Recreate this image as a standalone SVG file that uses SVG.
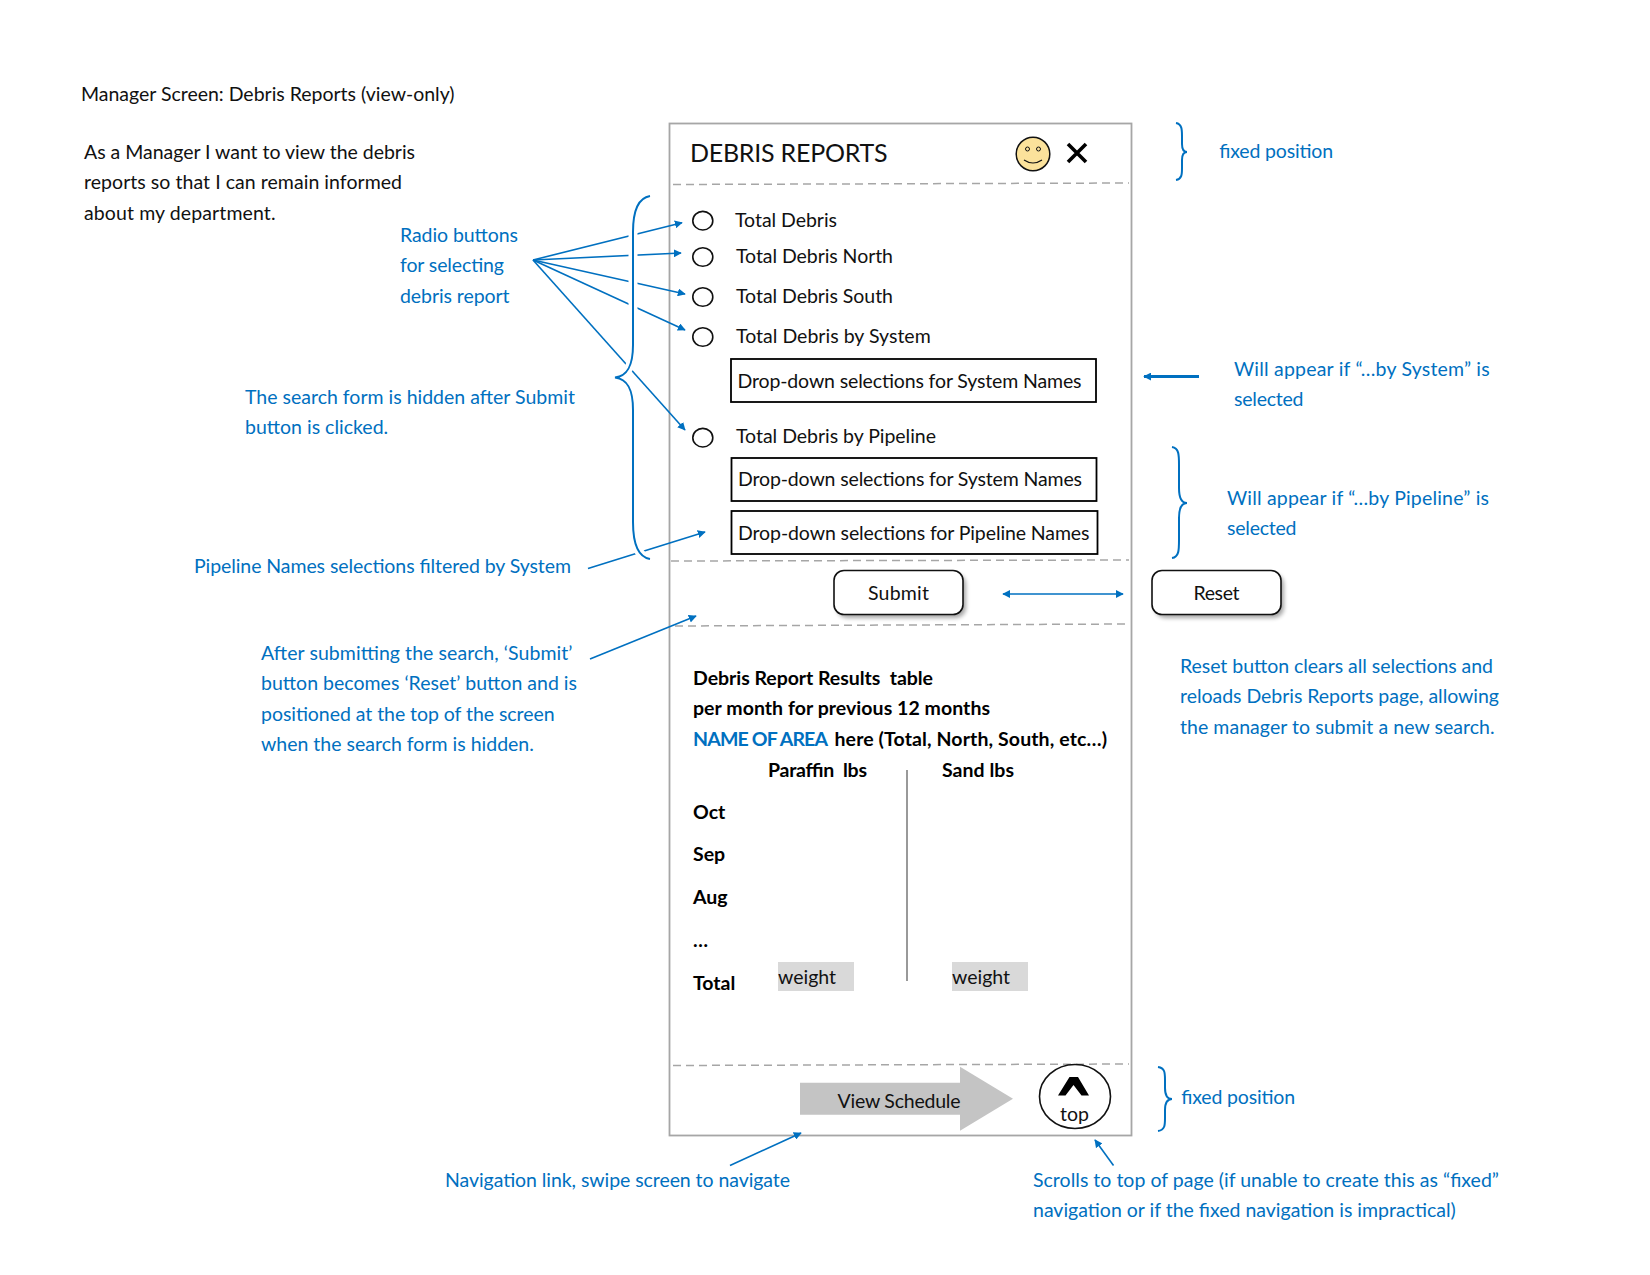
<svg xmlns="http://www.w3.org/2000/svg" width="1650" height="1275" viewBox="0 0 1650 1275">
<style>
text{font-family:"Lato","Liberation Sans",sans-serif;font-size:19.5px;fill:#111;white-space:pre}
.b{fill:#0070c0}
.h{font-weight:700;fill:#000}
.bb{font-weight:700;fill:#0070c0}
.dash{stroke:#a6a6a6;stroke-width:1.5;stroke-dasharray:8 5;fill:none}
.ln{stroke:#0070c0;stroke-width:1.6;fill:none}
.brace{stroke:#0070c0;stroke-width:2;fill:none}
.halo{stroke:#fff;stroke-width:9;fill:none}
.radio{fill:#fff;stroke:#111;stroke-width:1.6}
.box{fill:#fff;stroke:#000;stroke-width:1.8}
.btn{fill:#fff;stroke:#111;stroke-width:1.6}
.sh{fill:#000;opacity:.35;filter:url(#blur)}
</style>
<defs>
<marker id="a" viewBox="0 0 10 10" refX="9" refY="5" markerWidth="8" markerHeight="8" orient="auto-start-reverse" markerUnits="userSpaceOnUse"><path d="M0 0L10 5L0 10Z" fill="#0070c0"/></marker>
<filter id="blur" x="-10%" y="-20%" width="120%" height="140%"><feGaussianBlur stdDeviation="2"/></filter>
</defs>
<rect width="1650" height="1275" fill="#fff"/>
<g id="intro">
<text x="81" y="101" textLength="373.500">Manager Screen: Debris Reports (view-only)</text>
<text x="84" y="159" textLength="331">As a Manager I want to view the debris</text>
<text x="84" y="189" textLength="318">reports so that I can remain informed</text>
<text x="84" y="220" textLength="191.500">about my department.</text>
</g>
<g id="screen">
<rect x="669.500" y="123.500" width="462" height="1012" fill="#fff" stroke="#a6a6a6" stroke-width="1.800"/>
<path class="dash" d="M673 184.500L1129 183M671 561L1129 560M675 626L1129 624M673 1065.500L1129 1064"/>
</g>
<g id="header">
<text x="690" y="162" style="font-size:25px" textLength="197.500">DEBRIS REPORTS</text>
<circle cx="1033" cy="154" r="16.800" fill="#fbe29b" stroke="#111" stroke-width="1.500"/>
<circle cx="1027.500" cy="149" r="2" fill="none" stroke="#111" stroke-width="1"/>
<circle cx="1038.500" cy="149" r="2" fill="none" stroke="#111" stroke-width="1"/>
<path d="M1024 160Q1033 166 1042 160" fill="none" stroke="#111" stroke-width="1.200"/>
<path d="M1068 144L1086 162M1086 144L1068 162" stroke="#000" stroke-width="3.600" fill="none"/>
</g>
<g id="radio-total"><ellipse class="radio" cx="702.800" cy="220.700" rx="10" ry="9.300"/><text x="735" y="227" textLength="102">Total Debris</text></g>
<g id="radio-north"><ellipse class="radio" cx="702.800" cy="257" rx="10" ry="9.300"/><text x="736" y="263" textLength="157">Total Debris North</text></g>
<g id="radio-south"><ellipse class="radio" cx="702.800" cy="297" rx="10" ry="9.300"/><text x="736" y="303" textLength="157">Total Debris South</text></g>
<g id="radio-system"><ellipse class="radio" cx="702.800" cy="337" rx="10" ry="9.300"/><text x="736" y="343" textLength="194.700">Total Debris by System</text></g>
<g id="dd-system"><rect class="box" x="731" y="359" width="365" height="43"/><text x="737.500" y="387.500" textLength="344">Drop-down selections for System Names</text></g>
<g id="radio-pipeline"><ellipse class="radio" cx="702.800" cy="437.700" rx="10" ry="9.300"/><text x="736" y="443" textLength="200">Total Debris by Pipeline</text></g>
<g id="dd-system2"><rect class="box" x="731.500" y="458" width="365" height="43"/><text x="738" y="485.500" textLength="344">Drop-down selections for System Names</text></g>
<g id="dd-pipeline"><rect class="box" x="731.500" y="511" width="366" height="43"/><text x="738" y="539.500" textLength="351.500">Drop-down selections for Pipeline Names</text></g>
<g id="submit"><rect class="sh" x="837" y="574" width="129" height="44" rx="10"/><rect class="btn" x="834" y="570.500" width="129" height="44" rx="10"/><text x="868" y="600" textLength="61">Submit</text></g>
<g id="reset"><rect class="sh" x="1155" y="574" width="129" height="44" rx="10"/><rect class="btn" x="1152" y="570.500" width="129" height="44" rx="10"/><text x="1193.500" y="600" textLength="46">Reset</text></g>
<g id="results">
<text class="h" x="693" y="684.500" textLength="240">Debris Report Results  table</text>
<text class="h" x="693" y="714.500" textLength="297">per month for previous 12 months</text>
<text class="bb" x="693" y="745.500" textLength="135">NAME OF AREA</text>
<text class="h" x="834.500" y="745.500" textLength="272.500">here (Total, North, South, etc…)</text>
<text class="h" x="768" y="776.500" textLength="99">Paraffin  lbs</text>
<text class="h" x="942" y="776.500" textLength="72">Sand lbs</text>
<text class="h" x="693" y="818.500">Oct</text>
<text class="h" x="693" y="860.500">Sep</text>
<text class="h" x="693" y="903.500">Aug</text>
<text class="h" x="693" y="946.500">…</text>
<text class="h" x="693" y="989.500">Total</text>
<path d="M907 770V981" stroke="#555" stroke-width="1.200" fill="none"/>
<rect x="778" y="962" width="76" height="29" fill="#d9d9d9"/><text x="778" y="984">weight</text>
<rect x="952" y="962" width="76" height="29" fill="#d9d9d9"/><text x="952" y="984">weight</text>
</g>
<g id="view-schedule"><path d="M800 1082.700H960V1066.700L1013 1098.700L960 1130.700V1114.700H800Z" fill="#c4c4c4"/><text x="837.500" y="1108" textLength="123">View Schedule</text></g>
<g id="top"><ellipse cx="1075" cy="1096.500" rx="35.500" ry="32" fill="#fff" stroke="#111" stroke-width="1.600"/><path d="M1058 1095.500L1069.500 1077H1078L1089 1095.500H1081.500L1073.500 1085L1065.500 1095.500Z" fill="#000"/><text x="1074.500" y="1121" text-anchor="middle">top</text></g>
<g id="connectors">
<path class="ln" marker-end="url(#a)" d="M533 260L682 222.700"/>
<path class="ln" marker-end="url(#a)" d="M533 260L681 253"/>
<path class="ln" marker-end="url(#a)" d="M533 260L685 294"/>
<path class="ln" marker-end="url(#a)" d="M533 260L685 330"/>
<path class="ln" marker-end="url(#a)" d="M533 260L685 430"/>
<path class="ln" marker-end="url(#a)" d="M588 568.500L705 532"/>
<path class="halo" d="M650 196C638 198 633 212 633 232V345C633 365 628 376 615 377.500C628 379 633 390 633 410V522C633 543 638 557 650 559"/>
<path class="brace" d="M650 196C638 198 633 212 633 232V345C633 365 628 376 615 377.500C628 379 633 390 633 410V522C633 543 638 557 650 559"/>
<path class="ln" marker-start="url(#a)" marker-end="url(#a)" d="M1003 594H1123"/>
<path class="ln" style="stroke-width:3" marker-end="url(#a)" d="M1199 376.500H1144"/>
<path class="ln" marker-end="url(#a)" d="M590 659L696 616"/>
<path class="ln" marker-end="url(#a)" d="M730 1165.500L801 1133"/>
<path class="ln" marker-end="url(#a)" d="M1113.500 1165.500L1095 1140"/>
<path class="brace" d="M1176 123C1182 124 1182 130 1182 136V144C1182 149 1184 152 1187 152C1184 152 1182 155 1182 160V168C1182 174 1182 179 1176 180"/>
<path class="brace" d="M1172 447C1179 448 1179 455 1179 465V488C1179 498 1181 503 1187 503C1181 503 1179 508 1179 518V540C1179 550 1179 557 1172 558"/>
<path class="brace" d="M1158 1067C1165 1068 1165 1073 1165 1080V1088C1165 1095 1167 1099 1172 1099C1167 1099 1165 1103 1165 1110V1118C1165 1125 1165 1130 1158 1131"/>
</g>
<g id="annotations">
<text class="b" x="400" y="242" textLength="118">Radio buttons</text>
<text class="b" x="400" y="272" textLength="104">for selecting</text>
<text class="b" x="400" y="303" textLength="109.500">debris report</text>
<text class="b" x="245" y="404">The search form is hidden after Submit</text>
<text class="b" x="245" y="434">button is clicked.</text>
<text class="b" x="194" y="572.500" textLength="377">Pipeline Names selections filtered by System</text>
<text class="b" x="261" y="660" textLength="311.500">After submitting the search, ‘Submit’</text>
<text class="b" x="261" y="690" textLength="316">button becomes ‘Reset’ button and is</text>
<text class="b" x="261" y="721" textLength="293.600">positioned at the top of the screen</text>
<text class="b" x="261" y="751">when the search form is hidden.</text>
<text class="b" x="1219" y="158" textLength="114">fixed position</text>
<text class="b" x="1234" y="376" textLength="255.700">Will appear if “…by System” is</text>
<text class="b" x="1234" y="406" textLength="69.500">selected</text>
<text class="b" x="1227" y="505" textLength="262">Will appear if “…by Pipeline” is</text>
<text class="b" x="1227" y="535" textLength="69.500">selected</text>
<text class="b" x="1180" y="673" textLength="313">Reset button clears all selections and</text>
<text class="b" x="1180" y="703" textLength="319">reloads Debris Reports page, allowing</text>
<text class="b" x="1180" y="734" textLength="314.600">the manager to submit a new search.</text>
<text class="b" x="1181" y="1104" textLength="114">fixed position</text>
<text class="b" x="445" y="1187" textLength="345">Navigation link, swipe screen to navigate</text>
<text class="b" x="1033" y="1187" textLength="466">Scrolls to top of page (if unable to create this as “fixed”</text>
<text class="b" x="1033" y="1217">navigation or if the fixed navigation is impractical)</text>
</g>
</svg>
